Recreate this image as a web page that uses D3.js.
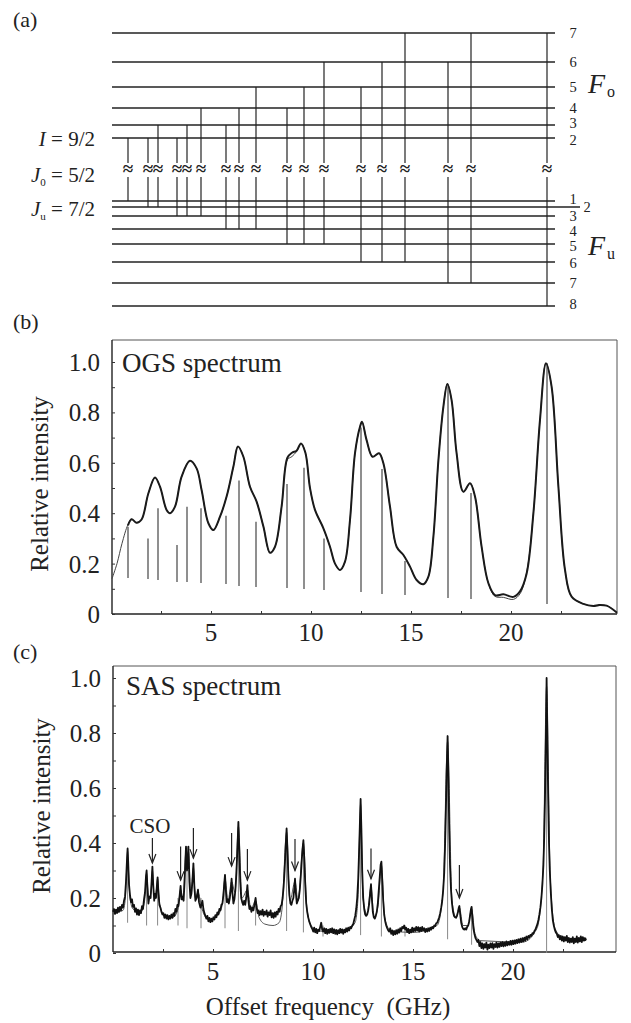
<!DOCTYPE html>
<html><head><meta charset="utf-8">
<script src="https://cdn.jsdelivr.net/npm/d3@7"></script>
<style>html,body{margin:0;padding:0;background:#fff;}svg{display:block;}
svg text{font-family:"Liberation Serif","Times New Roman","DejaVu Serif",serif;}</style>
</head><body>
<svg id="chart" width="631" height="1023"></svg>
<script>
// ---------------- DATA ----------------
// Panel (a): relative hyperfine level energies (arbitrary units)
const foLevels = [2, 3, 4, 5, 6, 7];
const foEnergy = [0, 13, 30, 51, 76, 105];
const fuLevels = [1, 2, 3, 4, 5, 6, 7, 8];
const fuEnergy = [0, 6, 15, 28, 43, 61, 82, 105];
// transitions [F_o, F_u] in order of offset frequency
const transFo = [2, 2, 3, 2, 3, 4, 3, 4, 5, 4, 5, 6, 5, 6, 7, 6, 7, 7];
const transFu = [1, 2, 2, 3, 3, 3, 4, 4, 4, 5, 5, 5, 6, 6, 6, 7, 7, 8];

// Panel (b): stick spectrum (GHz, top, bottom)
const stickFreq = [0.85, 1.85, 2.35, 3.3, 3.8, 4.5, 5.75, 6.4, 7.25, 8.8, 9.65, 10.65, 12.5, 13.55, 14.7, 16.85, 18.0, 21.8];
const stickTop  = [0.346, 0.30, 0.42, 0.274, 0.426, 0.42, 0.39, 0.53, 0.366, 0.516, 0.58, 0.30, 0.74, 0.575, 0.21, 0.91, 0.48, 0.995];
const stickBot  = [0.143, 0.139, 0.135, 0.127, 0.127, 0.123, 0.119, 0.111, 0.107, 0.103, 0.099, 0.095, 0.087, 0.079, 0.075, 0.063, 0.06, 0.04];

// OGS fit (thin) and measurement (thick): [GHz, relative intensity]
const ogsFit = [[0.05,0.14],[0.3,0.2],[0.55,0.28],[0.85,0.355],[1.03,0.376],[1.28,0.362],[1.53,0.375],[1.87,0.479],[2.2,0.542],[2.45,0.505],[2.78,0.413],[2.95,0.4],[3.2,0.426],[3.53,0.545],[3.95,0.608],[4.28,0.578],[4.53,0.492],[4.87,0.36],[5.12,0.333],[5.45,0.386],[5.78,0.466],[6.12,0.585],[6.35,0.665],[6.62,0.624],[6.95,0.505],[7.28,0.446],[7.62,0.347],[7.95,0.243],[8.2,0.267],[8.53,0.426],[8.82,0.612],[9.05,0.625],[9.28,0.645],[9.5,0.677],[9.72,0.64],[9.95,0.5],[10.2,0.413],[10.62,0.34],[10.95,0.267],[11.2,0.2],[11.45,0.175],[11.7,0.208],[11.95,0.373],[12.2,0.638],[12.45,0.743],[12.55,0.763],[12.78,0.69],[13.08,0.624],[13.4,0.638],[13.62,0.598],[13.95,0.426],[14.28,0.267],[14.62,0.234],[14.95,0.188],[15.28,0.135],[15.62,0.118],[15.87,0.148],[16.12,0.307],[16.37,0.61],[16.62,0.823],[16.82,0.913],[17.03,0.849],[17.28,0.638],[17.62,0.485],[17.95,0.519],[18.2,0.466],[18.53,0.267],[18.87,0.122],[19.2,0.07],[19.62,0.066],[20.12,0.058],[20.45,0.08],[20.78,0.165],[21.12,0.4],[21.45,0.77],[21.75,0.995],[22.03,0.902],[22.37,0.505],[22.7,0.175],[23.03,0.069],[23.62,0.04],[24.12,0.032],[24.78,0.033],[25.3,0.005]];
const ogsExp = [[0.85,0.352],[1.03,0.376],[1.28,0.362],[1.53,0.375],[1.87,0.479],[2.2,0.542],[2.45,0.505],[2.78,0.413],[2.95,0.4],[3.2,0.426],[3.53,0.545],[3.95,0.608],[4.28,0.578],[4.53,0.492],[4.87,0.36],[5.12,0.333],[5.45,0.386],[5.78,0.466],[6.12,0.585],[6.35,0.665],[6.62,0.624],[6.95,0.505],[7.28,0.446],[7.62,0.347],[7.95,0.243],[8.2,0.267],[8.53,0.426],[8.82,0.62],[9.05,0.64],[9.28,0.648],[9.5,0.677],[9.72,0.64],[9.95,0.5],[10.2,0.413],[10.62,0.34],[10.95,0.267],[11.2,0.2],[11.45,0.175],[11.7,0.208],[11.95,0.373],[12.2,0.638],[12.45,0.743],[12.55,0.763],[12.78,0.69],[13.08,0.624],[13.4,0.638],[13.62,0.598],[13.95,0.426],[14.28,0.267],[14.62,0.234],[14.95,0.188],[15.28,0.135],[15.62,0.118],[15.87,0.148],[16.12,0.307],[16.37,0.61],[16.62,0.823],[16.82,0.913],[17.03,0.849],[17.28,0.638],[17.62,0.485],[17.95,0.519],[18.2,0.466],[18.53,0.267],[18.87,0.122],[19.2,0.075],[19.62,0.078],[20.12,0.068],[20.45,0.09],[20.78,0.16],[21.12,0.4],[21.45,0.77],[21.75,0.995],[22.03,0.902],[22.37,0.505],[22.7,0.175],[23.03,0.069],[23.62,0.04],[24.12,0.032],[24.4,0.036],[24.78,0.033],[25.3,0.005]];

// Panel (c): SAS measurement [GHz, relative intensity]
const sasExp = [[0.00,0.150],[0.05,0.160],[0.10,0.142],[0.15,0.158],[0.20,0.145],[0.25,0.165],[0.30,0.150],[0.35,0.168],[0.40,0.155],[0.45,0.175],[0.50,0.165],[0.55,0.190],[0.60,0.205],[0.65,0.260],[0.70,0.340],[0.73,0.380],[0.76,0.330],[0.80,0.250],[0.85,0.210],[0.90,0.185],[0.95,0.195],[1.00,0.168],[1.05,0.175],[1.10,0.150],[1.15,0.162],[1.20,0.140],[1.25,0.158],[1.30,0.138],[1.35,0.155],[1.40,0.145],[1.45,0.170],[1.50,0.160],[1.55,0.195],[1.60,0.220],[1.65,0.280],[1.68,0.300],[1.72,0.240],[1.77,0.180],[1.82,0.205],[1.88,0.200],[1.93,0.260],[1.97,0.314],[2.01,0.250],[2.06,0.190],[2.10,0.215],[2.15,0.200],[2.19,0.240],[2.23,0.275],[2.27,0.220],[2.32,0.175],[2.37,0.165],[2.42,0.150],[2.47,0.140],[2.52,0.145],[2.57,0.128],[2.62,0.140],[2.67,0.125],[2.72,0.138],[2.77,0.122],[2.82,0.135],[2.87,0.125],[2.92,0.140],[2.97,0.128],[3.02,0.145],[3.07,0.135],[3.12,0.160],[3.17,0.150],[3.22,0.175],[3.27,0.170],[3.32,0.200],[3.38,0.244],[3.43,0.195],[3.48,0.205],[3.53,0.190],[3.58,0.260],[3.65,0.387],[3.70,0.300],[3.74,0.330],[3.77,0.387],[3.82,0.260],[3.87,0.200],[3.92,0.215],[3.97,0.260],[4.02,0.326],[4.07,0.240],[4.12,0.190],[4.18,0.200],[4.25,0.230],[4.30,0.185],[4.37,0.165],[4.42,0.175],[4.47,0.190],[4.52,0.160],[4.57,0.145],[4.62,0.135],[4.67,0.125],[4.72,0.135],[4.77,0.115],[4.82,0.128],[4.87,0.112],[4.92,0.125],[4.97,0.115],[5.02,0.130],[5.07,0.122],[5.12,0.138],[5.17,0.130],[5.22,0.148],[5.27,0.140],[5.32,0.160],[5.37,0.155],[5.42,0.175],[5.47,0.180],[5.52,0.210],[5.56,0.250],[5.60,0.284],[5.64,0.230],[5.69,0.185],[5.74,0.195],[5.79,0.180],[5.84,0.200],[5.89,0.230],[5.93,0.270],[5.97,0.220],[6.02,0.180],[6.07,0.195],[6.12,0.230],[6.17,0.290],[6.22,0.380],[6.27,0.477],[6.31,0.380],[6.36,0.260],[6.41,0.200],[6.46,0.185],[6.51,0.175],[6.56,0.190],[6.61,0.175],[6.66,0.200],[6.72,0.247],[6.77,0.190],[6.82,0.160],[6.87,0.170],[6.92,0.150],[6.97,0.165],[7.02,0.155],[7.07,0.175],[7.13,0.200],[7.18,0.165],[7.23,0.145],[7.28,0.155],[7.33,0.138],[7.38,0.152],[7.43,0.140],[7.48,0.158],[7.53,0.135],[7.58,0.150],[7.63,0.140],[7.68,0.155],[7.73,0.132],[7.78,0.148],[7.83,0.138],[7.88,0.155],[7.93,0.130],[7.98,0.145],[8.03,0.128],[8.08,0.148],[8.13,0.132],[8.18,0.150],[8.23,0.140],[8.28,0.160],[8.33,0.150],[8.38,0.170],[8.43,0.175],[8.48,0.200],[8.53,0.240],[8.58,0.300],[8.63,0.380],[8.68,0.453],[8.72,0.380],[8.77,0.270],[8.82,0.210],[8.87,0.180],[8.92,0.175],[8.97,0.190],[9.02,0.200],[9.06,0.230],[9.10,0.270],[9.14,0.220],[9.19,0.180],[9.24,0.190],[9.29,0.200],[9.34,0.230],[9.39,0.280],[9.44,0.340],[9.48,0.380],[9.52,0.410],[9.56,0.350],[9.61,0.250],[9.66,0.180],[9.71,0.150],[9.76,0.130],[9.81,0.115],[9.86,0.105],[9.91,0.095],[9.96,0.088],[10.01,0.078],[10.06,0.092],[10.11,0.075],[10.16,0.088],[10.21,0.072],[10.26,0.085],[10.31,0.080],[10.36,0.095],[10.41,0.110],[10.46,0.085],[10.51,0.078],[10.56,0.090],[10.61,0.072],[10.66,0.088],[10.71,0.070],[10.76,0.085],[10.81,0.073],[10.86,0.088],[10.91,0.075],[10.96,0.090],[11.01,0.072],[11.06,0.086],[11.11,0.070],[11.16,0.084],[11.21,0.068],[11.26,0.083],[11.31,0.072],[11.36,0.088],[11.41,0.074],[11.46,0.086],[11.51,0.070],[11.56,0.085],[11.61,0.075],[11.66,0.090],[11.71,0.078],[11.76,0.092],[11.81,0.082],[11.86,0.095],[11.91,0.090],[11.96,0.100],[12.01,0.105],[12.06,0.120],[12.11,0.135],[12.16,0.160],[12.21,0.200],[12.26,0.270],[12.30,0.360],[12.34,0.460],[12.38,0.560],[12.42,0.450],[12.46,0.300],[12.51,0.200],[12.56,0.160],[12.61,0.140],[12.66,0.135],[12.71,0.140],[12.76,0.155],[12.81,0.180],[12.86,0.220],[12.90,0.250],[12.94,0.200],[12.99,0.150],[13.04,0.130],[13.09,0.125],[13.14,0.135],[13.19,0.150],[13.24,0.180],[13.29,0.230],[13.34,0.280],[13.38,0.320],[13.42,0.332],[13.46,0.270],[13.51,0.190],[13.56,0.140],[13.61,0.115],[13.66,0.100],[13.71,0.090],[13.76,0.082],[13.81,0.078],[13.86,0.090],[13.91,0.070],[13.96,0.082],[14.01,0.065],[14.06,0.080],[14.11,0.068],[14.16,0.083],[14.21,0.070],[14.26,0.086],[14.31,0.074],[14.36,0.090],[14.41,0.080],[14.46,0.095],[14.51,0.090],[14.56,0.100],[14.61,0.085],[14.66,0.092],[14.71,0.076],[14.76,0.088],[14.81,0.072],[14.86,0.085],[14.91,0.075],[14.96,0.092],[15.01,0.078],[15.06,0.090],[15.11,0.080],[15.16,0.095],[15.21,0.082],[15.26,0.094],[15.31,0.078],[15.36,0.092],[15.41,0.080],[15.46,0.095],[15.51,0.082],[15.56,0.090],[15.61,0.076],[15.66,0.088],[15.71,0.078],[15.76,0.090],[15.81,0.080],[15.86,0.092],[15.91,0.085],[15.96,0.095],[16.01,0.090],[16.06,0.100],[16.11,0.098],[16.16,0.108],[16.21,0.110],[16.26,0.120],[16.31,0.130],[16.36,0.145],[16.41,0.165],[16.46,0.190],[16.51,0.230],[16.56,0.290],[16.60,0.380],[16.64,0.500],[16.68,0.650],[16.73,0.789],[16.77,0.640],[16.81,0.450],[16.85,0.320],[16.90,0.230],[16.95,0.180],[17.00,0.150],[17.05,0.135],[17.10,0.130],[17.15,0.128],[17.20,0.135],[17.25,0.150],[17.29,0.165],[17.32,0.171],[17.36,0.140],[17.41,0.110],[17.46,0.095],[17.51,0.088],[17.56,0.085],[17.61,0.090],[17.66,0.085],[17.71,0.095],[17.76,0.100],[17.81,0.115],[17.86,0.140],[17.90,0.160],[17.93,0.168],[17.97,0.130],[18.02,0.090],[18.07,0.070],[18.12,0.055],[18.17,0.048],[18.22,0.040],[18.27,0.048],[18.32,0.025],[18.37,0.040],[18.42,0.018],[18.47,0.035],[18.52,0.015],[18.57,0.032],[18.62,0.020],[18.67,0.038],[18.72,0.012],[18.77,0.030],[18.82,0.018],[18.87,0.035],[18.92,0.020],[18.97,0.036],[19.02,0.015],[19.07,0.032],[19.12,0.022],[19.17,0.038],[19.22,0.020],[19.27,0.035],[19.32,0.022],[19.37,0.038],[19.42,0.025],[19.47,0.040],[19.52,0.024],[19.57,0.038],[19.62,0.026],[19.67,0.042],[19.72,0.028],[19.77,0.040],[19.82,0.030],[19.87,0.044],[19.92,0.030],[19.97,0.045],[20.02,0.032],[20.07,0.046],[20.12,0.034],[20.17,0.048],[20.22,0.036],[20.27,0.050],[20.32,0.038],[20.37,0.052],[20.42,0.040],[20.47,0.054],[20.52,0.042],[20.57,0.056],[20.62,0.046],[20.67,0.060],[20.72,0.050],[20.77,0.062],[20.82,0.056],[20.87,0.066],[20.92,0.062],[20.97,0.072],[21.02,0.070],[21.07,0.080],[21.12,0.085],[21.17,0.095],[21.22,0.105],[21.27,0.120],[21.32,0.140],[21.37,0.165],[21.42,0.200],[21.47,0.250],[21.52,0.320],[21.56,0.420],[21.60,0.560],[21.64,0.750],[21.68,1.000],[21.72,0.760],[21.76,0.560],[21.80,0.400],[21.84,0.300],[21.89,0.220],[21.94,0.160],[21.99,0.120],[22.04,0.100],[22.09,0.085],[22.14,0.075],[22.19,0.070],[22.24,0.058],[22.29,0.065],[22.34,0.050],[22.39,0.062],[22.44,0.045],[22.49,0.060],[22.54,0.042],[22.59,0.058],[22.64,0.045],[22.69,0.062],[22.74,0.040],[22.79,0.055],[22.84,0.038],[22.89,0.052],[22.94,0.040],[22.99,0.058],[23.04,0.035],[23.09,0.052],[23.14,0.040],[23.19,0.060],[23.24,0.038],[23.29,0.055],[23.34,0.042],[23.39,0.060],[23.44,0.040],[23.49,0.058],[23.54,0.045],[23.58,0.050]];
// SAS fit (thin)
const sasFit = [[0,0.145],[0.5,0.155],[0.62,0.2],[0.68,0.3],[0.73,0.37],[0.78,0.29],[0.85,0.2],[1.0,0.16],[1.4,0.15],[1.58,0.19],[1.68,0.29],[1.78,0.2],[1.9,0.22],[1.97,0.3],[2.05,0.21],[2.15,0.22],[2.23,0.27],[2.33,0.18],[2.6,0.135],[3.0,0.13],[3.25,0.16],[3.38,0.23],[3.5,0.2],[3.65,0.37],[3.71,0.31],[3.77,0.37],[3.9,0.21],[4.02,0.31],[4.12,0.2],[4.25,0.22],[4.45,0.16],[4.8,0.12],[5.2,0.135],[5.45,0.17],[5.6,0.27],[5.75,0.19],[5.93,0.26],[6.1,0.22],[6.27,0.46],[6.45,0.2],[6.72,0.23],[6.9,0.16],[7.13,0.19],[7.3,0.13],[7.6,0.105],[8.0,0.1],[8.3,0.11],[8.45,0.16],[8.68,0.44],[8.85,0.19],[9.1,0.26],[9.25,0.19],[9.52,0.4],[9.7,0.16],[9.9,0.1],[10.3,0.08],[11.5,0.075],[12.1,0.11],[12.25,0.2],[12.38,0.54],[12.5,0.2],[12.7,0.14],[12.9,0.24],[13.05,0.13],[13.25,0.17],[13.42,0.32],[13.58,0.13],[13.9,0.08],[15.0,0.075],[16.2,0.1],[16.5,0.22],[16.73,0.77],[16.95,0.19],[17.15,0.13],[17.32,0.165],[17.5,0.1],[17.75,0.1],[17.93,0.16],[18.1,0.07],[18.35,0.045],[20.5,0.04],[21.2,0.09],[21.5,0.3],[21.68,0.97],[21.86,0.28],[22.1,0.09],[22.5,0.055],[23.58,0.05]];
// SAS stick positions (grey)
const sasStickFreq = [0.73, 1.68, 2.23, 3.25, 3.7, 4.4, 5.6, 6.27, 7.13, 8.68, 9.52, 10.5, 12.38, 13.42, 14.6, 16.73, 17.93, 21.68];
const sasStickTop  = [0.38, 0.30, 0.275, 0.2, 0.387, 0.2, 0.284, 0.477, 0.2, 0.453, 0.41, 0.1, 0.56, 0.332, 0.1, 0.789, 0.168, 1.0];
const sasStickBot  = [0.11, 0.1, 0.1, 0.1, 0.09, 0.09, 0.09, 0.08, 0.1, 0.08, 0.075, 0.06, 0.065, 0.06, 0.06, 0.05, 0.03, 0.0];
// CSO arrows (GHz, tail, head)
const arrowFreq = [1.97, 3.38, 4.02, 5.93, 6.72, 9.1, 12.9, 17.32];
const arrowTail = [0.418, 0.387, 0.455, 0.436, 0.378, 0.415, 0.38, 0.32];
const arrowHead = [0.327, 0.265, 0.345, 0.316, 0.265, 0.30, 0.27, 0.20];

const yTicks = [0, 0.2, 0.4, 0.6, 0.8, 1.0];
const yMinor = [0.1, 0.3, 0.5, 0.7, 0.9];
const xTickLabels = [5, 10, 15, 20];
const xTicksAll = [2.5, 5, 7.5, 10, 12.5, 15, 17.5, 20, 22.5];

// ---------------- DRAW ----------------
const svg = d3.select("#chart");
svg.append("rect").attr("width", 631).attr("height", 1023).attr("fill", "#fff");

const xB = d3.scaleLinear().domain([0, 25.3]).range([111, 617]);
const yB = d3.scaleLinear().domain([0, 1]).range([614, 362]);
const xC = d3.scaleLinear().domain([0, 25.15]).range([113, 616]);
const yC = d3.scaleLinear().domain([0, 1]).range([953, 678]);

const yUp = d3.scaleLinear().domain([0, 105]).range([138, 33]);
const yLo = d3.scaleLinear().domain([0, 105]).range([201, 306]);
const foY = F => yUp(foEnergy[foLevels.indexOf(F)]);
const fuY = F => yLo(fuEnergy[fuLevels.indexOf(F)]);

// ---- Panel (a)
const gA = svg.append("g");
const lineL = 112, lineR = 555;
foLevels.forEach((F, i) => {
  gA.append("line").attr("x1", lineL).attr("x2", lineR).attr("y1", foY(F)).attr("y2", foY(F))
    .attr("stroke", "#222").attr("stroke-width", 1.3);
  gA.append("text").attr("x", 573).attr("y", foY(F) + (F === 3 ? -2 : (F === 2 ? 2 : 0))).attr("dy", "0.35em").attr("text-anchor", "middle")
    .attr("font-size", 14.5).attr("fill", "#222").text(F);
});
fuLevels.forEach((F, i) => {
  const ext = F === 2 ? 580 : lineR;
  gA.append("line").attr("x1", lineL).attr("x2", ext).attr("y1", fuY(F)).attr("y2", fuY(F))
    .attr("stroke", "#222").attr("stroke-width", 1.3);
  const off = {1: -2, 3: 0, 4: 2, 5: 2, 6: 1, 7: 0, 8: -2}[F] || 0;
  gA.append("text").attr("x", F === 2 ? 587 : 573).attr("y", fuY(F) + off).attr("dy", "0.35em").attr("text-anchor", "middle")
    .attr("font-size", 14.5).attr("fill", "#222").text(F);
});
transFo.forEach((Fo, i) => {
  const x = xB(stickFreq[i]);
  gA.append("line").attr("x1", x).attr("x2", x).attr("y1", foY(Fo)).attr("y2", 163)
    .attr("stroke", "#222").attr("stroke-width", 1.2);
  gA.append("line").attr("x1", x).attr("x2", x).attr("y1", 177).attr("y2", fuY(transFu[i]))
    .attr("stroke", "#222").attr("stroke-width", 1.2);
  gA.append("text").attr("x", x).attr("y", 175).attr("text-anchor", "middle")
    .attr("font-size", 19).attr("font-weight", "bold").attr("fill", "#222").text("\u2248");
});
// Left labels
function labelA(y, sym, sub, rest) {
  const t = gA.append("text").attr("x", 95).attr("y", y).attr("text-anchor", "end")
    .attr("font-size", 21).attr("fill", "#222");
  t.append("tspan").attr("font-style", "italic").text(sym);
  if (sub) t.append("tspan").attr("font-size", 11).attr("dy", 4).text(sub);
  t.append("tspan").attr("dy", sub ? -4 : 0).text(rest);
}
labelA(146, "I", null, " = 9/2");
labelA(182, "J", "0", " = 5/2");
labelA(216, "J", "u", " = 7/2");
// F labels
function fLabel(y, sub) {
  const t = gA.append("text").attr("x", 588).attr("y", y).attr("font-size", 28).attr("fill", "#222");
  t.append("tspan").attr("font-style", "italic").text("F");
  t.append("tspan").attr("font-size", 16).attr("dy", 4).attr("dx", 2).text(sub);
}
fLabel(93, "o");
fLabel(255, "u");

svg.append("text").attr("x", 13).attr("y", 27).attr("font-size", 22).attr("fill", "#222").text("(a)");
svg.append("text").attr("x", 13).attr("y", 329).attr("font-size", 22).attr("fill", "#222").text("(b)");
svg.append("text").attr("x", 13).attr("y", 659).attr("font-size", 22).attr("fill", "#222").text("(c)");

// ---- generic axes frame
function frame(g, x, y, left, right, top, bottom, labelY) {
  g.append("line").attr("x1", left).attr("x2", right).attr("y1", top).attr("y2", top).attr("stroke", "#555").attr("stroke-width", 1);
  g.append("line").attr("x1", right).attr("x2", right).attr("y1", top).attr("y2", bottom).attr("stroke", "#555").attr("stroke-width", 1);
  g.append("line").attr("x1", left).attr("x2", left).attr("y1", top).attr("y2", bottom).attr("stroke", "#222").attr("stroke-width", 1.4);
  g.append("line").attr("x1", left).attr("x2", right).attr("y1", bottom).attr("y2", bottom).attr("stroke", "#222").attr("stroke-width", 1.4);
  const yAx = d3.axisLeft(y).tickValues(yTicks.concat(yMinor)).tickSize(-3).tickFormat("");
  g.append("g").attr("transform", `translate(${left},0)`).call(yAx)
    .call(s => s.select(".domain").remove()).selectAll("line").attr("stroke", "#333");
  const xAx = d3.axisBottom(x).tickValues(xTicksAll).tickSize(-3).tickFormat("");
  g.append("g").attr("transform", `translate(0,${bottom})`).call(xAx)
    .call(s => s.select(".domain").remove()).selectAll("line").attr("stroke", "#333");
  yTicks.forEach(v => g.append("text").attr("x", left - 12).attr("y", y(v)).attr("dy", "0.36em")
    .attr("text-anchor", "end").attr("font-size", 25).attr("fill", "#222")
    .text(v === 0 ? "0" : d3.format(".1f")(v)));
  xTickLabels.forEach(v => g.append("text").attr("x", x(v)).attr("y", labelY)
    .attr("text-anchor", "middle").attr("font-size", 25).attr("fill", "#222").text(v));
}

// ---- Panel (b)
const gB = svg.append("g");
frame(gB, xB, yB, 112, 617, 340, 614, 641);
gB.append("text").attr("transform", "translate(48,484) rotate(-90)").attr("text-anchor", "middle")
  .attr("font-size", 25).attr("fill", "#222").text("Relative intensity");
gB.append("text").attr("x", 122).attr("y", 372).attr("font-size", 27).attr("fill", "#222").text("OGS spectrum");
stickFreq.forEach((f, i) => gB.append("line").attr("x1", xB(f)).attr("x2", xB(f))
  .attr("y1", yB(stickBot[i])).attr("y2", yB(stickTop[i])).attr("stroke", "#333").attr("stroke-width", 1.1));
const lineB = d3.line().x(d => xB(d[0])).y(d => yB(d[1])).curve(d3.curveCatmullRom.alpha(0.5));
gB.append("path").attr("d", lineB(ogsFit)).attr("fill", "none").attr("stroke", "#444").attr("stroke-width", 1);
gB.append("path").attr("d", lineB(ogsExp)).attr("fill", "none").attr("stroke", "#1a1a1a").attr("stroke-width", 2);

// ---- Panel (c)
const gC = svg.append("g");
frame(gC, xC, yC, 113, 616, 666, 952, 980);
gC.append("text").attr("transform", "translate(50,806) rotate(-90)").attr("text-anchor", "middle")
  .attr("font-size", 25).attr("fill", "#222").text("Relative intensity");
gC.append("text").attr("x", 126).attr("y", 695).attr("font-size", 27).attr("fill", "#222").text("SAS spectrum");
gC.append("text").attr("x", 328).attr("y", 1015).attr("text-anchor", "middle")
  .attr("font-size", 25).attr("fill", "#222").style("white-space", "pre").text("Offset frequency\u00a0 (GHz)");
sasStickFreq.forEach((f, i) => gC.append("line").attr("x1", xC(f)).attr("x2", xC(f))
  .attr("y1", yC(sasStickBot[i])).attr("y2", yC(sasStickTop[i])).attr("stroke", "#888").attr("stroke-width", 1));
gC.append("path").attr("d", d3.line().x(d => xC(d[0])).y(d => yC(d[1])).curve(d3.curveMonotoneX)(sasFit))
  .attr("fill", "none").attr("stroke", "#555").attr("stroke-width", 1);
gC.append("path").attr("d", d3.line().x(d => xC(d[0])).y(d => yC(d[1]))(sasExp)).attr("fill", "none")
  .attr("stroke", "#111").attr("stroke-width", 1.8).attr("stroke-linejoin", "round");
gC.append("circle").attr("cx", xC(23.58)).attr("cy", yC(0.05)).attr("r", 2).attr("fill", "#111");
// arrows
arrowFreq.forEach((f, i) => {
  const x = xC(f), y0 = yC(arrowTail[i]), y1 = yC(arrowHead[i]);
  gC.append("line").attr("x1", x).attr("x2", x).attr("y1", y0).attr("y2", y1).attr("stroke", "#222").attr("stroke-width", 1.2);
  gC.append("path").attr("d", `M${x - 3.5},${y1 - 9}L${x},${y1}L${x + 3.5},${y1 - 9}`)
    .attr("fill", "none").attr("stroke", "#222").attr("stroke-width", 1.2);
});
gC.append("text").attr("x", 150).attr("y", 833).attr("text-anchor", "middle")
  .attr("font-size", 21).attr("fill", "#222").text("CSO");
</script>
</body></html>
